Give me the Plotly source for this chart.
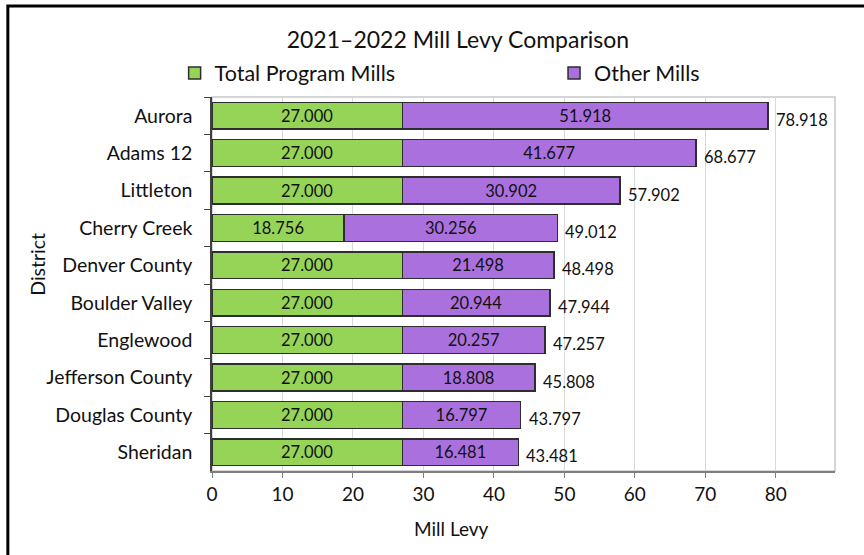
import plotly.graph_objects as go

districts = ["Aurora", "Adams 12", "Littleton", "Cherry Creek", "Denver County",
             "Boulder Valley", "Englewood", "Jefferson County", "Douglas County", "Sheridan"]
program_mills = [27.000, 27.000, 27.000, 18.756, 27.000, 27.000, 27.000, 27.000, 27.000, 27.000]
other_mills = [51.918, 41.677, 30.902, 30.256, 21.498, 20.944, 20.257, 18.808, 16.797, 16.481]
totals = [78.918, 68.677, 57.902, 49.012, 48.498, 47.944, 47.257, 45.808, 43.797, 43.481]
x_ticks = [0, 10, 20, 30, 40, 50, 60, 70, 80]

FONT = "Lato"
INK = "#111111"

fig = go.Figure()
fig.add_trace(go.Bar(
    y=districts, x=program_mills, orientation="h", name="Total Program Mills",
    marker=dict(color="#96d458", line=dict(color="#2e2e2e", width=1.5)),
    text=[f"{v:.3f}" for v in program_mills], textposition="inside",
    insidetextanchor="middle", textangle=0,
    textfont=dict(family=FONT, size=16.5, color=INK),
    legend="legend", showlegend=True,
))
fig.add_trace(go.Bar(
    y=districts, x=other_mills, orientation="h", name="Other Mills",
    marker=dict(color="#aa70de", line=dict(color="#2e2e2e", width=1.5)),
    text=[f"{v:.3f}" for v in other_mills], textposition="inside",
    insidetextanchor="middle", textangle=0,
    textfont=dict(family=FONT, size=16.5, color=INK),
    legend="legend2", showlegend=True,
))

for d, t in zip(districts, totals):
    fig.add_annotation(x=t, y=d, text=f"{t:.3f}", showarrow=False,
                       xanchor="left", yanchor="middle", xshift=6, yshift=-4,
                       font=dict(family=FONT, size=16.5, color=INK))

# axis titles
fig.add_annotation(x=0.385, y=-0.155, xref="paper", yref="paper", text="Mill Levy",
                   showarrow=False, xanchor="center", yanchor="middle",
                   font=dict(family=FONT, size=19, color=INK))
fig.add_annotation(x=-0.28, y=0.553, xref="paper", yref="paper", text="District",
                   showarrow=False, xanchor="center", yanchor="middle", textangle=-90,
                   font=dict(family=FONT, size=19.5, color=INK))

# plot-area light border
fig.add_shape(type="rect", xref="paper", yref="paper", x0=0, x1=1, y0=0, y1=1,
              line=dict(color="#c8c8c8", width=1.5), layer="below")
# outer chart frame (top and left edges)
fig.add_shape(type="path", xref="paper", yref="paper",
              path="M -0.3277,-0.25 L -0.3277,1.2433 L 1.06,1.2433",
              line=dict(color="#000000", width=3))

legend_common = dict(orientation="h", yanchor="middle", y=1.064, xanchor="left",
                     font=dict(family=FONT, size=21.5, color=INK),
                     itemclick=False, bgcolor="rgba(0,0,0,0)", visible=True)

fig.update_layout(
    width=864, height=555,
    margin=dict(l=212, r=29, t=97, b=84),
    paper_bgcolor="white", plot_bgcolor="white",
    showlegend=True,
    barmode="stack", bargap=0.285,
    title=dict(text="2021–2022 Mill Levy Comparison", x=0.53, xref="container",
               xanchor="center", y=1 - 40 / 555, yanchor="middle",
               font=dict(family=FONT, size=23, color=INK)),
    legend=dict(x=-0.06, **legend_common),
    legend2=dict(x=0.549, **legend_common),
    xaxis=dict(range=[0, 88.4], tickvals=x_ticks, ticktext=[str(v) for v in x_ticks],
               showgrid=True, gridcolor="#d9d9d9", gridwidth=1,
               showline=True, linecolor="#7f7f7f", linewidth=2,
               ticks="outside", ticklen=5, tickcolor="#7f7f7f",
               tickfont=dict(family=FONT, size=19, color=INK),
               zeroline=False),
    yaxis=dict(autorange="reversed", showline=True, linecolor="#404040", linewidth=1.5,
               ticks="outside", tickson="boundaries", ticklen=6, tickcolor="#404040",
               tickfont=dict(family=FONT, size=19.5, color=INK),
               ticklabelstandoff=14),
)

fig.write_html("out.html")
